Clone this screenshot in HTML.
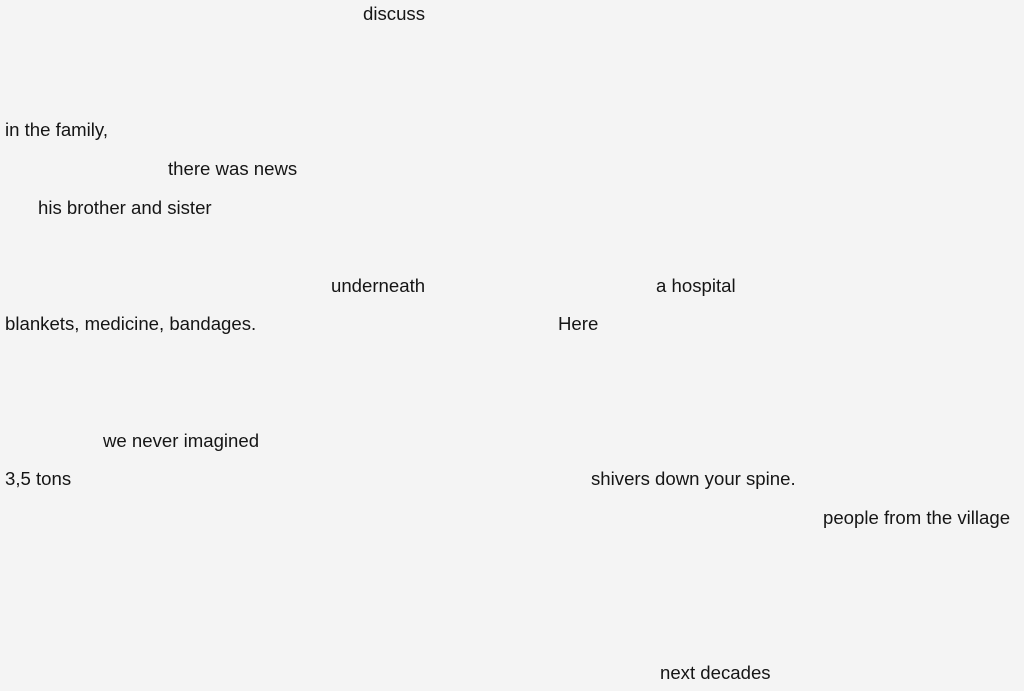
<!DOCTYPE html>
<html><head><meta charset="utf-8"><style>
html,body{margin:0;padding:0;}
body{width:1024px;height:691px;background:#f4f4f4;position:relative;overflow:hidden;font-family:"Liberation Sans",sans-serif;font-size:18.6px;color:#151515;}
span{position:absolute;line-height:20px;white-space:nowrap;}
</style></head><body>
<span style="left:363px;top:4px">discuss</span>
<span style="left:5px;top:120px">in the family,</span>
<span style="left:168px;top:159px">there was news</span>
<span style="left:38px;top:198px">his brother and sister</span>
<span style="left:331px;top:276px">underneath</span>
<span style="left:656px;top:276px">a hospital</span>
<span style="left:5px;top:314px">blankets, medicine, bandages.</span>
<span style="left:558px;top:314px">Here</span>
<span style="left:103px;top:431px">we never imagined</span>
<span style="left:5px;top:469px">3,5 tons</span>
<span style="left:591px;top:469px">shivers down your spine.</span>
<span style="left:823px;top:508px">people from the village</span>
<span style="left:660px;top:663px">next decades</span>
</body></html>
